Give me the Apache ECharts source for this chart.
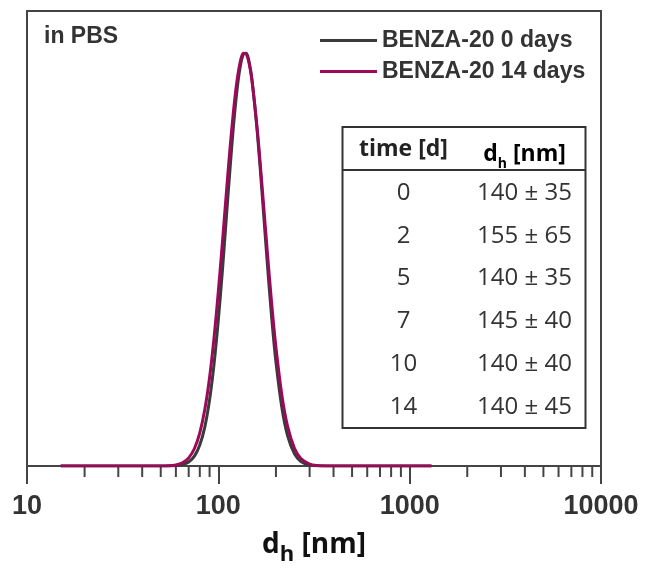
<!DOCTYPE html>
<html lang="en">
<head>
    <meta charset="UTF-8">
    <title>DLS BENZA-20</title>
    <script src="https://cdn.jsdelivr.net/npm/echarts@6/dist/echarts.min.js"></script>
    <style>
        html, body { margin: 0; padding: 0; background: #fff; }
        #chart { width: 646px; height: 571px; }
    </style>
</head>
<body>
    <div id="chart"></div>
    <script>
        // hydrodynamic diameter [nm] and intensity (peak = 100)
        let sizes = [15, 20, 30, 40, 50, 55, 60, 65, 70, 75, 80, 85, 90, 95, 100, 105, 110, 115, 120, 125, 130, 135, 140, 145, 150, 160, 170, 180, 190, 200, 215, 230, 250, 270, 300, 330, 370, 450, 700, 1300];
        let day0 = [0, 0, 0, 0, 0, 0.02, 0.1, 0.34, 0.98, 2.4, 5.07, 9.47, 16.0, 24.7, 35.3, 47.2, 59.7, 71.6, 82.2, 90.6, 96.4, 99.5, 99.8, 97.6, 93.3, 80.4, 64.8, 49.4, 35.9, 25.2, 14.0, 7.34, 2.92, 1.1, 0.24, 0.05, 0, 0, 0, 0];
        let day14 = [0, 0, 0, 0, 0.01, 0.07, 0.26, 0.78, 1.96, 4.23, 8.02, 13.7, 21.4, 31.1, 42.2, 54.0, 65.7, 76.6, 85.8, 92.9, 97.6, 99.8, 99.6, 97.2, 93.1, 81.1, 66.6, 52.2, 39.3, 28.7, 17.0, 9.63, 4.27, 1.8, 0.47, 0.12, 0.02, 0, 0, 0];
        let minorTicks = [20, 30, 40, 50, 60, 70, 80, 90, 200, 300, 400, 500, 600, 700, 800, 900, 2000, 3000, 4000, 5000, 6000, 7000, 8000, 9000];

        // inset table
        let tableDays = [0, 2, 5, 7, 10, 14];
        let tableMean = [140, 155, 140, 145, 140, 140];
        let tableSd = [35, 65, 35, 40, 40, 45];

        const axisColor = '#444';
        const tFont = '"Open Sans", sans-serif';
        const aFont = '"Liberation Sans", Arial, sans-serif';

        let tableItems = [
            { type: 'rect', shape: { x: 0, y: 0, width: 243, height: 301 }, style: { fill: '#fff', stroke: '#333', lineWidth: 2 } },
            { type: 'line', shape: { x1: 0, y1: 43, x2: 243, y2: 43 }, style: { stroke: '#333', lineWidth: 2 } },
            { type: 'text', style: { x: 61, y: 22, text: 'time [d]', align: 'center', verticalAlign: 'middle', font: 'bold 23px ' + tFont, fill: '#222' } },
            {
                type: 'text',
                style: {
                    x: 182, y: 27, align: 'center', verticalAlign: 'middle',
                    text: '{a|d}{s|h}{a| [nm]}',
                    rich: {
                        a: { fontSize: 23, fontWeight: 'bold', fontFamily: tFont, color: '#222', lineHeight: 34 },
                        s: { fontSize: 14, fontWeight: 'bold', fontFamily: tFont, color: '#222', lineHeight: 14, verticalAlign: 'bottom' }
                    }
                }
            }
        ];
        tableDays.forEach((d, i) => {
            let y = 66 + i * 42.8;
            tableItems.push({ type: 'text', style: { x: 61, y: y, text: String(d), align: 'center', verticalAlign: 'middle', font: '24px ' + tFont, fill: '#333' } });
            tableItems.push({ type: 'text', style: { x: 182, y: y, text: tableMean[i] + ' ± ' + tableSd[i], align: 'center', verticalAlign: 'middle', font: '24px ' + tFont, fill: '#333' } });
        });

        let option = {
            animation: false,
            backgroundColor: '#fff',
            grid: {
                left: 27, right: 45, top: 11, bottom: 96,
                show: true, borderColor: axisColor, borderWidth: 2, backgroundColor: 'transparent'
            },
            legend: {
                data: ['BENZA-20 0 days', 'BENZA-20 14 days'],
                orient: 'vertical',
                left: 320, top: 29,
                icon: 'rect',
                itemWidth: 57, itemHeight: 3, itemGap: 8,
                padding: 0,
                selectedMode: false,
                textStyle: { fontFamily: aFont, fontWeight: 'bold', fontSize: 23, color: '#333' }
            },
            xAxis: {
                type: 'log', logBase: 10, min: 10, max: 10000,
                name: '{d|d}{h|h}{d| [nm]}',
                nameLocation: 'middle', nameGap: 58,
                nameTextStyle: {
                    rich: {
                        d: { fontSize: 28, fontWeight: 'bold', fontFamily: tFont, color: '#111', lineHeight: 42 },
                        h: { fontSize: 22, fontWeight: 'bold', fontFamily: tFont, color: '#111', lineHeight: 22, verticalAlign: 'bottom' }
                    }
                },
                axisLine: { lineStyle: { color: axisColor, width: 2 } },
                axisTick: { length: 18, lineStyle: { color: axisColor, width: 2 } },
                axisLabel: { margin: 27, fontSize: 27, fontWeight: 'bold', fontFamily: aFont, color: '#333', formatter: v => String(v) },
                splitLine: { show: false }
            },
            yAxis: { type: 'value', min: 0, max: 110, show: false },
            graphic: [
                { type: 'text', style: { x: 44, y: 37, text: 'in PBS', verticalAlign: 'middle', font: 'bold 23px ' + aFont, fill: '#333' } },
                { type: 'group', left: 340, top: 126, children: tableItems }
            ],
            series: [
                {
                    type: 'custom',
                    silent: true,
                    clip: false,
                    data: minorTicks.map(v => [v, 0]),
                    encode: { x: 0, y: 1 },
                    renderItem: (params, api) => {
                        let p = api.coord([api.value(0), 0]);
                        return { type: 'line', shape: { x1: p[0], y1: p[1], x2: p[0], y2: p[1] + 11 }, style: { stroke: axisColor, lineWidth: 2 } };
                    }
                },
                {
                    name: 'BENZA-20 0 days',
                    type: 'line',
                    symbol: 'none',
                    smooth: 0.3,
                    data: sizes.map((s, i) => [s, day0[i]]),
                    lineStyle: { color: '#3a3a3a', width: 3 },
                    itemStyle: { color: '#3a3a3a' },
                    z: 3
                },
                {
                    name: 'BENZA-20 14 days',
                    type: 'line',
                    symbol: 'none',
                    smooth: 0.3,
                    data: sizes.map((s, i) => [s, day14[i]]),
                    lineStyle: { color: '#9b0a5a', width: 3 },
                    itemStyle: { color: '#9b0a5a' },
                    z: 4
                }
            ]
        };

        let myChart = echarts.init(document.getElementById('chart'));
        myChart.setOption(option);
    </script>
</body>
</html>
